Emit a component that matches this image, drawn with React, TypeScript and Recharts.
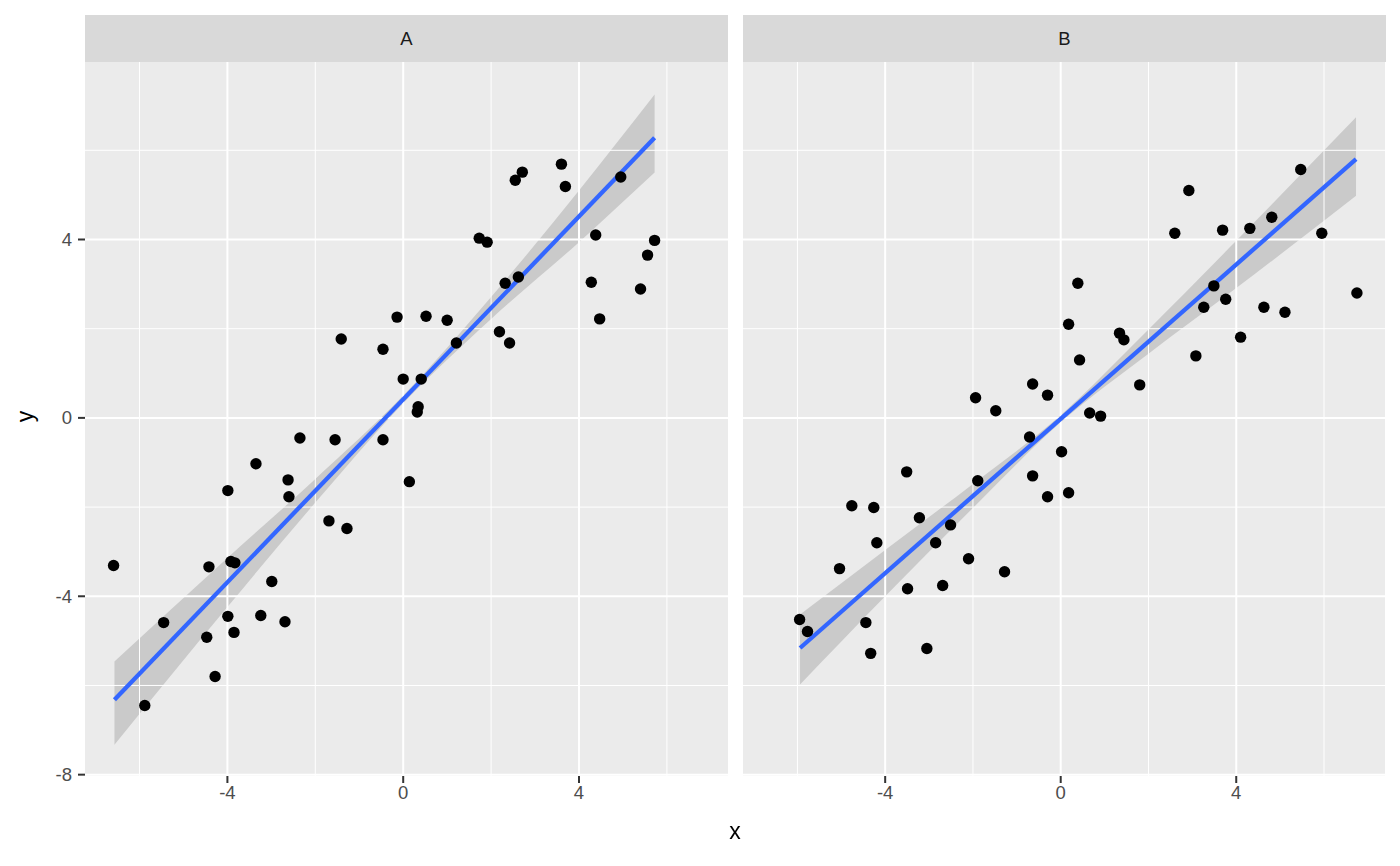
import { ComposedChart, XAxis, YAxis, CartesianGrid, Scatter, Area, Line, ReferenceLine } from 'recharts'

// panel A points
const aX = [-6.59, -5.88, -5.45, -4.47, -4.42, -4.28, -3.99, -3.99, -3.92, -3.83, -3.85, -3.35, -3.24, -2.99, -2.69, -2.62, -2.6, -2.35, -1.69, -1.55, -1.41, -1.28, -0.46, -0.46, -0.14, 0.0, 0.14, 0.32, 0.34, 0.41, 0.52, 1.0, 1.21, 1.73, 1.91, 2.19, 2.32, 2.42, 2.55, 2.62, 2.71, 3.6, 3.69, 4.28, 4.38, 4.47, 4.95, 5.4, 5.56, 5.72]
const aY = [-3.31, -6.45, -4.59, -4.92, -3.34, -5.8, -1.63, -4.45, -3.22, -3.25, -4.81, -1.03, -4.43, -3.67, -4.57, -1.39, -1.77, -0.45, -2.31, -0.49, 1.77, -2.48, -0.49, 1.54, 2.26, 0.87, -1.43, 0.13, 0.25, 0.87, 2.28, 2.19, 1.68, 4.03, 3.94, 1.93, 3.02, 1.68, 5.33, 3.16, 5.51, 5.69, 5.19, 3.04, 4.1, 2.22, 5.4, 2.89, 3.65, 3.98]

// panel B points
const bX = [-5.95, -5.77, -5.04, -4.76, -4.44, -4.33, -4.26, -4.19, -3.51, -3.49, -3.22, -3.05, -2.85, -2.69, -2.51, -2.1, -1.94, -1.89, -1.48, -1.28, -0.71, -0.64, -0.64, -0.3, -0.3, 0.02, 0.18, 0.18, 0.39, 0.43, 0.66, 0.91, 1.34, 1.44, 1.8, 2.6, 2.92, 3.08, 3.26, 3.49, 3.69, 3.76, 4.1, 4.31, 4.63, 4.81, 5.11, 5.47, 5.95, 6.75]
const bY = [-4.52, -4.79, -3.38, -1.97, -4.59, -5.28, -2.01, -2.8, -1.21, -3.83, -2.24, -5.17, -2.8, -3.76, -2.4, -3.16, 0.45, -1.41, 0.16, -3.45, -0.43, 0.76, -1.3, 0.51, -1.77, -0.76, 2.1, -1.68, 3.02, 1.3, 0.11, 0.04, 1.9, 1.75, 0.74, 4.14, 5.1, 1.39, 2.48, 2.96, 4.21, 2.66, 1.81, 4.25, 2.48, 4.5, 2.37, 5.57, 4.14, 2.8]

// fitted lines (end points)
const fitAX = [-6.57, 5.72]
const fitAY = [-6.32, 6.28]
const fitBX = [-5.94, 6.73]
const fitBY = [-5.16, 5.8]

// confidence bands
const bandAX = [-6.57, -4, -2, 0, 2, 4, 5.72]
const bandALo = [-7.33, -4.24, -1.9, 0.33, 2.22, 3.94, 5.5]
const bandAHi = [-5.46, -3.14, -1.37, 0.5, 2.71, 5.1, 7.25]
const bandBX = [-5.94, -4, -2, 0, 2, 4, 6.73]
const bandBLo = [-5.98, -4.0, -2.02, -0.1, 1.44, 2.91, 4.98]
const bandBHi = [-4.41, -2.96, -1.48, 0.06, 1.98, 3.97, 6.74]

const xTicks = [-4, 0, 4]
const yTicks = [-8, -4, 0, 4]
const xMinor = [-6, -2, 2, 6]
const yMinor = [-6, -2, 2, 6]
const panels = ['A', 'B']

const FONT = '"Liberation Sans", Arial, sans-serif'
const X_DOMAIN = [-7.24, 7.39]
const Y_DOMAIN = [-8.03, 7.98]
const TICK_SIZE = 18.5

const zip = (xs: number[], ys: number[]) => xs.map((x, i) => ({ x, y: ys[i] }))
const band = (xs: number[], lo: number[], hi: number[]) => xs.map((x, i) => ({ x, band: [lo[i], hi[i]] }))

const dot = (p: any) => <circle cx={p.cx} cy={p.cy} r={5.7} fill="#000" />

function Panel({ points, fit, ci, showY, width, left }: any) {
  return (
    <div style={{ position: 'absolute', left, top: 0 }}>
      <ComposedChart width={width} height={866} margin={{ top: 62, right: 12, bottom: 56, left: 0 }}>
        <CartesianGrid fill="#EBEBEB" horizontal={false} vertical={false} />
        {xMinor.map((v) => (
          <ReferenceLine key={'xm' + v} x={v} stroke="#fff" strokeWidth={1} ifOverflow="hidden" />
        ))}
        {yMinor.map((v) => (
          <ReferenceLine key={'ym' + v} y={v} stroke="#fff" strokeWidth={1} ifOverflow="hidden" />
        ))}
        {xTicks.map((v) => (
          <ReferenceLine key={'x' + v} x={v} stroke="#fff" strokeWidth={2} />
        ))}
        {yTicks.map((v) => (
          <ReferenceLine key={'y' + v} y={v} stroke="#fff" strokeWidth={2} />
        ))}
        <XAxis
          type="number"
          dataKey="x"
          domain={X_DOMAIN}
          ticks={xTicks}
          allowDataOverflow
          axisLine={false}
          tickSize={7}
          tickMargin={3}
          height={34}
          tickLine={{ stroke: '#333', strokeWidth: 2 }}
          tick={{ fill: '#4D4D4D', fontSize: TICK_SIZE, fontFamily: FONT }}
        />
        <YAxis
          type="number"
          domain={Y_DOMAIN}
          ticks={yTicks}
          allowDataOverflow
          hide={!showY}
          width={85}
          axisLine={false}
          tickSize={7}
          tickMargin={6}
          tickLine={{ stroke: '#333', strokeWidth: 2 }}
          tick={{ fill: '#4D4D4D', fontSize: TICK_SIZE, fontFamily: FONT }}
        />
        <Scatter data={points} dataKey="y" shape={dot} isAnimationActive={false} />
        <Area
          data={ci}
          dataKey="band"
          type="monotone"
          stroke="none"
          fill="#999999"
          fillOpacity={0.4}
          isAnimationActive={false}
          activeDot={false}
        />
        <Line
          data={fit}
          dataKey="y"
          type="linear"
          stroke="#3366FF"
          strokeWidth={4.3}
          dot={false}
          isAnimationActive={false}
        />
      </ComposedChart>
    </div>
  )
}

export default function App() {
  const strip = (label: string, left: number) => (
    <div
      key={label}
      style={{
        position: 'absolute',
        left,
        top: 15,
        width: 643,
        height: 47,
        background: '#D9D9D9',
        color: '#1A1A1A',
        fontFamily: FONT,
        fontSize: TICK_SIZE,
        display: 'flex',
        alignItems: 'center',
        justifyContent: 'center',
      }}
    >
      {label}
    </div>
  )

  return (
    <div style={{ position: 'fixed', left: 0, top: 0, width: 1400, height: 866, background: '#fff' }}>
      <Panel points={zip(aX, aY)} fit={zip(fitAX, fitAY)} ci={band(bandAX, bandALo, bandAHi)} showY width={740} left={0} />
      <Panel points={zip(bX, bY)} fit={zip(fitBX, fitBY)} ci={band(bandBX, bandBLo, bandBHi)} showY={false} width={654} left={743} />
      {strip(panels[0], 85)}
      {strip(panels[1], 743)}
      <div
        style={{
          position: 'absolute',
          left: 0,
          width: 1470,
          top: 818,
          textAlign: 'center',
          fontFamily: FONT,
          fontSize: 23,
          color: '#000',
        }}
      >
        x
      </div>
      <div
        style={{
          position: 'absolute',
          left: 20,
          top: 403,
          transform: 'rotate(-90deg)',
          fontFamily: FONT,
          fontSize: 23,
          color: '#000',
        }}
      >
        y
      </div>
    </div>
  )
}
